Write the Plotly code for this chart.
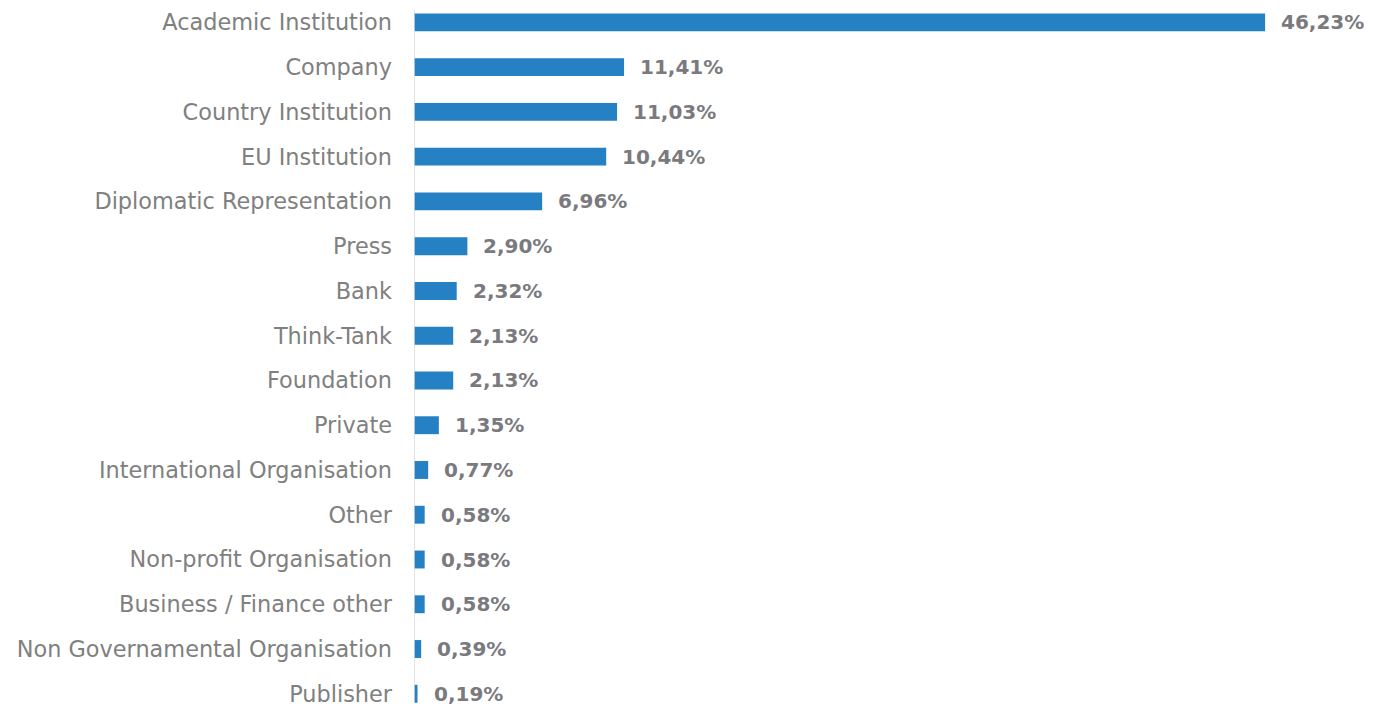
import plotly.graph_objects as go

# Share of respondents by organisation type (%)
categories = [
    "Academic Institution", "Company", "Country Institution", "EU Institution",
    "Diplomatic Representation", "Press", "Bank", "Think-Tank", "Foundation",
    "Private", "International Organisation", "Other", "Non-profit Organisation",
    "Business / Finance other", "Non Governamental Organisation", "Publisher",
]
shares = [46.23, 11.41, 11.03, 10.44, 6.96, 2.90, 2.32, 2.13, 2.13,
          1.35, 0.77, 0.58, 0.58, 0.58, 0.39, 0.19]

BAR_COLOR = "#2680C4"
TEXT_GRAY = "#808080"
VALUE_GRAY = "#7A7A7E"


def pct(v):
    return f"{v:.2f}".replace(".", ",") + "%"


fig = go.Figure(
    go.Bar(
        x=shares,
        y=categories,
        orientation="h",
        marker=dict(color=BAR_COLOR, line=dict(width=0)),
        width=0.4,
        hoverinfo="skip",
    )
)

# value labels to the right of each bar
for cat, v in zip(categories, shares):
    fig.add_annotation(
        x=v, y=cat, xref="x", yref="y",
        text=f"<b>{pct(v)}</b>",
        showarrow=False, xanchor="left", yanchor="middle", xshift=14,
        font=dict(family="DejaVu Sans", size=20, color=VALUE_GRAY),
    )

# vertical baseline
fig.add_shape(
    type="line", xref="x", yref="paper",
    x0=0, x1=0, y0=0.008, y1=0.986,
    line=dict(color="#D9D9D9", width=1.5),
)

fig.update_layout(
    width=1373, height=709,
    margin=dict(l=414, r=0, t=0, b=0),
    paper_bgcolor="white", plot_bgcolor="white",
    showlegend=False,
    xaxis=dict(range=[0, 52.09], visible=False, fixedrange=True),
    yaxis=dict(
        type="category",
        range=[15.34, -0.5],
        showgrid=False, zeroline=False, showline=False,
        ticks="", ticklabelstandoff=21,
        tickfont=dict(family="DejaVu Sans", size=22.4, color=TEXT_GRAY),
    ),
)

fig.write_html("out.html")
